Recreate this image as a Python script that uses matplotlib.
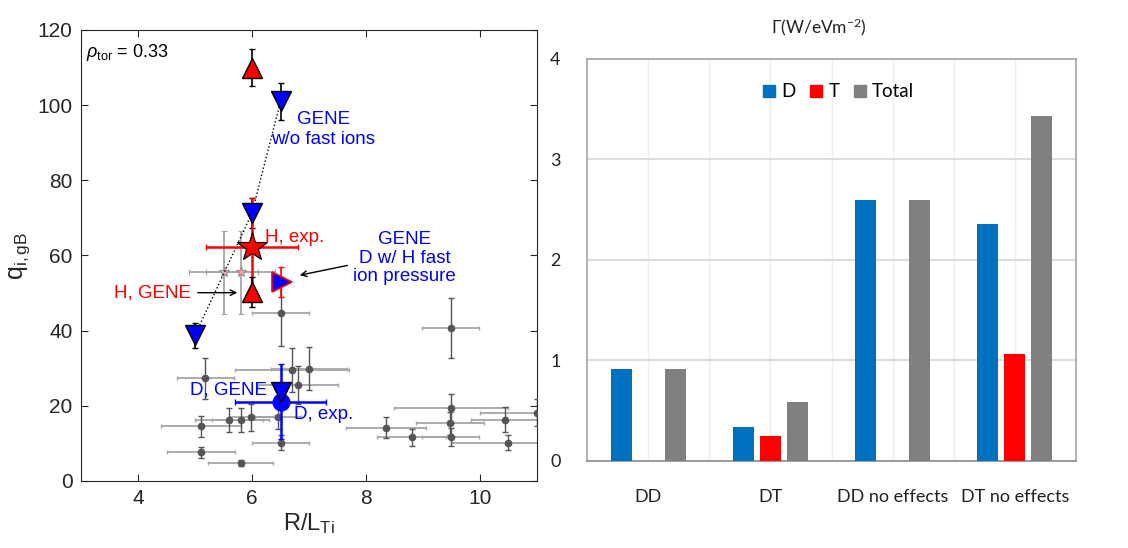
import numpy as np
import matplotlib.pyplot as plt
from matplotlib.patches import Patch

plt.rcParams['font.family'] = ['Liberation Sans', 'DejaVu Sans']
plt.rcParams['mathtext.fontset'] = 'custom'
plt.rcParams['mathtext.rm'] = 'Liberation Sans'
plt.rcParams['mathtext.it'] = 'Liberation Sans:italic'

# experimental points (gray)
exp_x = [5.11, 5.11, 5.18, 5.60, 5.80, 5.80, 5.99, 6.50, 6.50, 6.46, 6.70,
         6.80, 7.00, 8.35, 8.80, 9.49, 9.49, 9.47, 9.49, 10.44, 10.49, 11.0]
exp_y = [14.5, 7.6, 27.3, 16.1, 16.1, 4.9, 16.9, 44.8, 10.2, 16.9, 29.5,
         25.5, 29.9, 14.2, 11.6, 40.7, 19.3, 15.3, 11.7, 16.3, 10.2, 18.1]
exp_xerr = [0.7, 0.6, 0.5, 0.6, 0.5, 0.57, 0.4, 0.5, 0.5, 0.4, 1.0,
            0.7, 0.66, 0.7, 0.6, 0.5, 1.0, 0.6, 0.5, 0.6, 1.0, 1.0]
exp_yerr = [2.9, 1.5, 5.4, 3.2, 3.2, 0.8, 3.5, 9.0, 2.0, 3.0, 5.8,
            5.0, 5.8, 2.8, 2.3, 8.1, 3.9, 3.0, 2.3, 3.3, 2.0, 3.6]

# H-like pink stars
hstar_x = [5.50, 5.80]
hstar_y = [55.5, 55.5]
hstar_xerr = [0.6, 0.6]
hstar_yerr = [11.0, 11.0]

# GENE D w/o fast ions (blue down triangles)
gene_d_x = [5.0, 6.0, 6.5]
gene_d_y = [38.8, 71.3, 101.0]
gene_d_err = [3.3, 4.0, 5.0]

# GENE H (red up triangles)
gene_h_x = [6.0, 6.0]
gene_h_y = [110.0, 50.2]
gene_h_err = [5.0, 4.0]

# H exp
hexp = (6.0, 62.2, 0.8, 13.0)
# D exp
dexp = (6.5, 21.1, 0.8, 10.0)
# D GENE
dgene = (6.5, 23.8)
# D w/ H fast ion pressure
dfast = (6.52, 53.0, 4.0)

# right panel
cases = ['DD', 'DT', 'DD no effects', 'DT no effects']
flux_D = [0.915, 0.335, 2.60, 2.36]
flux_T = [0.0, 0.245, 0.0, 1.065]
flux_total = [0.915, 0.584, 2.60, 3.43]

fig = plt.figure(figsize=(11.28, 5.48), dpi=100)

# ---------------- left panel ----------------
ax = fig.add_axes([0.0718, 0.1223, 0.4043, 0.823])
dark = '#555555'
light = '#a6a6a6'
ax.errorbar(exp_x, exp_y, xerr=exp_xerr, fmt='none', ecolor=light, elinewidth=1.3,
            capsize=1.5, zorder=2)
ax.errorbar(exp_x, exp_y, yerr=exp_yerr, fmt='o', color=dark, ms=4.5, elinewidth=1.0,
            capsize=2, zorder=3)
ax.errorbar(hstar_x, hstar_y, xerr=hstar_xerr, yerr=hstar_yerr, fmt='*', ms=8,
            mfc='#f4a6a6', mec='#909090', mew=0.8, ecolor=light, elinewidth=1.3,
            capsize=2, zorder=3)

ax.plot(gene_d_x, gene_d_y, ':', color='k', lw=1.0, zorder=4)
ax.errorbar(gene_d_x, gene_d_y, yerr=gene_d_err, fmt='none', ecolor='k', elinewidth=1.2,
            capsize=2.5, zorder=5)
ax.plot(gene_d_x, gene_d_y, 'v', ms=15, mfc='#0000ff', mec='k', mew=1.0, zorder=6)

ax.errorbar(hexp[0], hexp[1], xerr=hexp[2], yerr=hexp[3], fmt='none', ecolor='#ff0000',
            elinewidth=1.8, capsize=2.5, zorder=5)
ax.plot(hexp[0], hexp[1], '*', ms=22, mfc='#ff0000', mec='k', mew=0.8, zorder=7)

ax.errorbar(gene_h_x, gene_h_y, yerr=gene_h_err, fmt='none', ecolor='k', elinewidth=1.2,
            capsize=2.5, zorder=5)
ax.plot(gene_h_x, gene_h_y, '^', ms=15, mfc='#ff0000', mec='k', mew=1.0, zorder=6)

ax.errorbar(dfast[0] - 0.02, dfast[1], yerr=dfast[2], fmt='none', ecolor='#ff0000',
            elinewidth=1.2, capsize=2.5, zorder=5)
ax.plot(dfast[0], dfast[1], '>', ms=14, mfc='#0000ff', mec='#ff0000', mew=1.2, zorder=6)

ax.errorbar(dexp[0], dexp[1], xerr=dexp[2], yerr=dexp[3], fmt='none', ecolor='#0000ff',
            elinewidth=1.8, capsize=2.5, zorder=5)
ax.plot(dexp[0], dexp[1], 'o', ms=12, mfc='#0000ff', mec='#0000ff', zorder=6)
ax.plot(dgene[0], dgene[1], 'v', ms=15, mfc='#0000ff', mec='k', mew=1.0, zorder=7)

ax.set_xlim(3, 11)
ax.set_ylim(0, 120)
ax.set_xticks([4, 6, 8, 10])
ax.set_yticks(np.arange(0, 121, 20))
ax.tick_params(direction='in', top=True, right=True, labelsize=15, length=5,
               color='#262626', labelcolor='#262626', pad=6)
for s in ax.spines.values():
    s.set_color('#262626')
ax.set_xlabel(r'R/L$_{\mathregular{Ti}}$', fontsize=17, color='#262626', labelpad=2)
ax.set_ylabel(r'q$_{\mathregular{i,gB}}$', fontsize=18, color='#262626', labelpad=4)

ax.text(3.09, 114, r'$\rho_{\mathregular{tor}}$ = 0.33', fontsize=13, va='center', ha='left')
ax.text(7.25, 93.5, 'GENE\nw/o fast ions', color='#0000ff', fontsize=13.5,
        ha='center', va='center', linespacing=1.25)
ax.text(6.23, 64.9, 'H, exp.', color='#ff0000', fontsize=13.5, ha='left', va='center')
ax.text(8.68, 59.3, 'GENE\nD w/ H fast\nion pressure', color='#0000ff', fontsize=13.5,
        ha='center', va='center', linespacing=1.1)
ax.annotate('', xy=(6.79, 54.6), xytext=(7.72, 57.5),
            arrowprops=dict(arrowstyle='->', color='k', lw=1.0), zorder=8)
ax.text(4.93, 50.1, 'H, GENE', color='#ff0000', fontsize=13.5, ha='right', va='center')
ax.annotate('', xy=(5.79, 50.1), xytext=(5.0, 50.1),
            arrowprops=dict(arrowstyle='->', color='k', lw=1.0), zorder=8)
ax.text(4.91, 24.2, 'D, GENE', color='#0000ff', fontsize=13.5, ha='left', va='center',
        zorder=6.5)
ax.text(6.74, 17.6, 'D, exp.', color='#0000ff', fontsize=13.5, ha='left', va='center')

# ---------------- right panel ----------------
ax2 = fig.add_axes([0.5204, 0.1588, 0.4335, 0.7336])
pos = np.arange(1, len(cases) + 1)
w = 0.172
off = 0.22
ax2.bar(pos - off, flux_D, w, color='#0070C0', zorder=3)
ax2.bar(pos, flux_T, w, color='#FF0000', zorder=3)
ax2.bar(pos + off, flux_total, w, color='#808080', zorder=3)
ax2.set_xlim(0.5, 4.5)
ax2.set_ylim(0, 4)
ax2.set_xticks(pos)
ax2.set_xticks([1.5, 2.5, 3.5], minor=True)
ax2.set_xticklabels(cases)
ax2.set_yticks([0, 1, 2, 3, 4])
ax2.grid(axis='y', color='#d9d9d9', lw=1.3, zorder=0)
ax2.grid(axis='x', which='both', color='#eeeeee', lw=1.0, zorder=0)
ax2.tick_params(which='both', length=0)
ax2.tick_params(axis='x', pad=20)
ax2.tick_params(axis='y', pad=19)
for lab in ax2.get_xticklabels() + ax2.get_yticklabels():
    lab.set_family(['Lato', 'DejaVu Sans'])
    lab.set_fontsize(13)
    lab.set_color('#222222')
for s in ax2.spines.values():
    s.set_color('#a6a6a6')
    s.set_linewidth(1.2)
ax2.spines['bottom'].set_color('#8c8c8c')

handles = [Patch(color='#0070C0', label='D'), Patch(color='#FF0000', label='T'),
           Patch(color='#808080', label='Total')]
ax2.legend(handles=handles, loc='center', bbox_to_anchor=(0.515, 0.918), ncol=3,
           frameon=False, handlelength=0.6, handleheight=0.6, handletextpad=0.35,
           columnspacing=0.8, prop={'family': ['Lato', 'DejaVu Sans'], 'size': 13.5})
fig.text(0.726, 0.951, r'Γ(W/eVm$^{\mathregular{-2}}$)', ha='center', va='center',
         fontsize=12.5, color='#222222', family=['Lato', 'DejaVu Sans'])

fig.savefig('out.png', dpi=100)
